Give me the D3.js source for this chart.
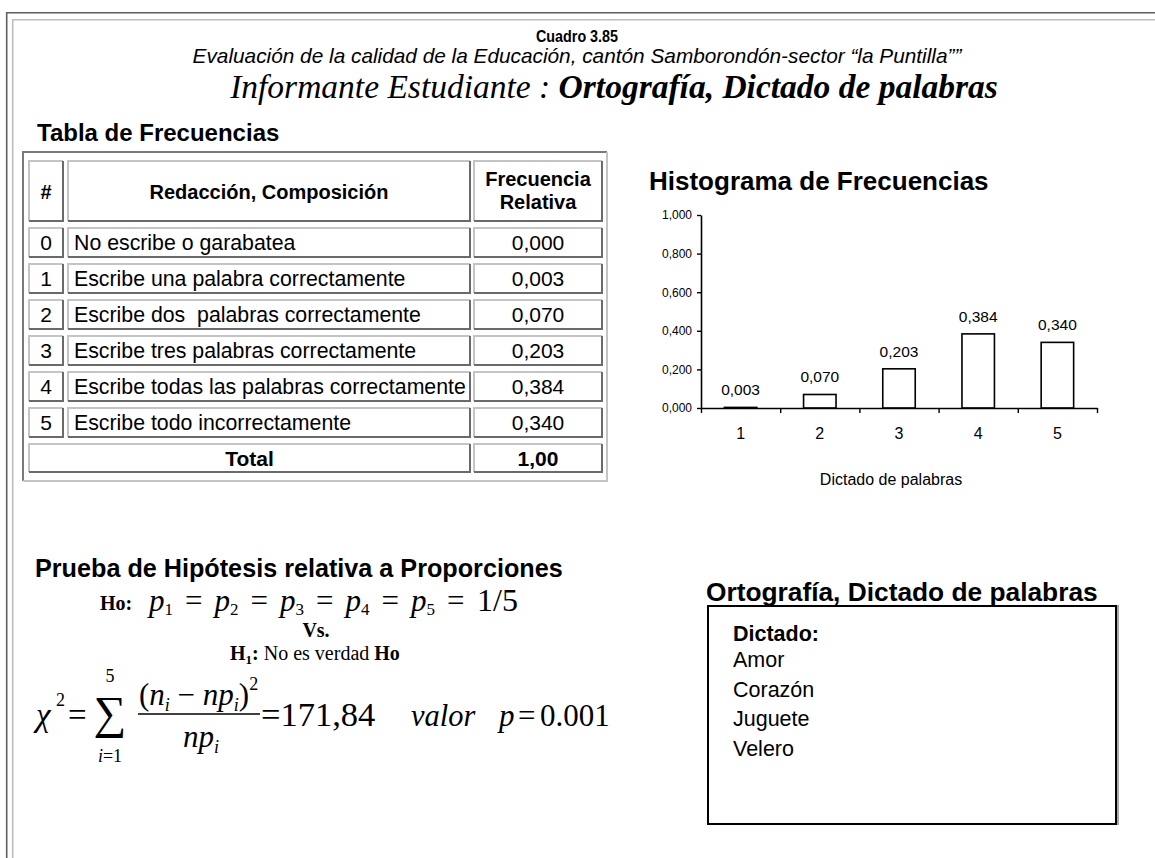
<!DOCTYPE html>
<html><head><meta charset="utf-8">
<script src="https://cdn.jsdelivr.net/npm/d3@7"></script>
<style>body{margin:0;background:#fff}svg{display:block}text{white-space:pre}</style>
</head><body>
<svg id="c" width="1155" height="858"></svg>
<script>
// ---------- data ----------
const categories = ["1","2","3","4","5"];
const values = [0.003, 0.070, 0.203, 0.384, 0.340];
const yTicks = [0, 0.2, 0.4, 0.6, 0.8, 1.0];
const tableCodes = ["0","1","2","3","4","5"];
const tableLabels = ["No escribe o garabatea","Escribe una palabra correctamente","Escribe dos  palabras correctamente","Escribe tres palabras correctamente","Escribe todas las palabras correctamente","Escribe todo incorrectamente"];
const tableFreq = ["0,000","0,003","0,070","0,203","0,384","0,340"];
const totalValue = "1,00";
const dictadoWords = ["Amor","Corazón","Juguete","Velero"];
const pIndices = ["1","2","3","4","5"];

const SANS = "'Liberation Sans', Arial, sans-serif";
const SERIF = "'Liberation Serif', 'Times New Roman', serif";
const svg = d3.select("#c");

function T(parent, x, y, str, o) {
  o = o || {};
  return parent.append("text").attr("x", x).attr("y", y)
    .attr("font-family", o.f || SANS).attr("font-size", o.s || 16)
    .attr("font-weight", o.w || "normal").attr("font-style", o.i ? "italic" : "normal")
    .attr("text-anchor", o.a || "start").attr("fill", "#000").text(str);
}

// ---------- page frame ----------
svg.append("path").attr("d", "M6.7,858 V12.7 H1155").attr("fill", "none").attr("stroke", "#5f5f5f").attr("stroke-width", 1.6);
svg.append("path").attr("d", "M12.7,858 V19.7 H1155").attr("fill", "none").attr("stroke", "#bdbdbd").attr("stroke-width", 1.6);

// ---------- headings ----------
T(svg, 577, 42, "Cuadro 3.85", {s: 16, w: "bold", a: "middle"})
  .attr("textLength", 82).attr("lengthAdjust", "spacingAndGlyphs");
T(svg, 577, 63, "Evaluación de la calidad de la Educación, cantón Samborondón-sector “la Puntilla””", {s: 20.8, i: true, a: "middle"});
const inf = T(svg, 614, 98, "", {f: SERIF, s: 33.5, i: true, a: "middle"});
inf.append("tspan").text("Informante Estudiante : ");
inf.append("tspan").attr("font-weight", "bold").text("Ortografía, Dictado de palabras");

T(svg, 37, 141, "Tabla de Frecuencias", {s: 24, w: "bold"});

// ---------- table ----------
const tg = svg.append("g");
tg.append("path").attr("d", "M23,481 V152 H607").attr("fill", "none").attr("stroke", "#7a7a7a").attr("stroke-width", 2);
tg.append("path").attr("d", "M607,152 V481 H23").attr("fill", "none").attr("stroke", "#c4c4c4").attr("stroke-width", 2);
function cell(x0, x1, y0, y1) {
  tg.append("path").attr("d", `M${x0},${y1} V${y0} H${x1}`).attr("fill", "none").attr("stroke", "#c4c4c4").attr("stroke-width", 2);
  tg.append("path").attr("d", `M${x1},${y0} V${y1} H${x0}`).attr("fill", "none").attr("stroke", "#6a6a6a").attr("stroke-width", 2);
}
const cols = [[29, 63], [68, 470], [474, 602]];
cell(cols[0][0], cols[0][1], 161, 221);
cell(cols[1][0], cols[1][1], 161, 221);
cell(cols[2][0], cols[2][1], 161, 221);
T(tg, (cols[0][0] + cols[0][1]) / 2, 199, "#", {s: 20, w: "bold", a: "middle"});
T(tg, (cols[1][0] + cols[1][1]) / 2, 199, "Redacción, Composición", {s: 20, w: "bold", a: "middle"});
T(tg, (cols[2][0] + cols[2][1]) / 2, 186, "Frecuencia", {s: 20, w: "bold", a: "middle"});
T(tg, (cols[2][0] + cols[2][1]) / 2, 209, "Relativa", {s: 20, w: "bold", a: "middle"});
tableCodes.forEach((code, i) => {
  const y0 = 228 + 36 * i, y1 = y0 + 29;
  cell(cols[0][0], cols[0][1], y0, y1);
  cell(cols[1][0], cols[1][1], y0, y1);
  cell(cols[2][0], cols[2][1], y0, y1);
  T(tg, (cols[0][0] + cols[0][1]) / 2, y0 + 22, code, {s: 21, a: "middle"});
  T(tg, cols[1][0] + 6, y0 + 22, tableLabels[i], {s: 21.3});
  T(tg, (cols[2][0] + cols[2][1]) / 2, y0 + 22, tableFreq[i], {s: 21, a: "middle"});
});
cell(cols[0][0], cols[1][1], 444, 472);
cell(cols[2][0], cols[2][1], 444, 472);
T(tg, (cols[0][0] + cols[1][1]) / 2, 466, "Total", {s: 21, w: "bold", a: "middle"});
T(tg, (cols[2][0] + cols[2][1]) / 2, 466, totalValue, {s: 21, w: "bold", a: "middle"});

// ---------- histogram ----------
T(svg, 649, 190, "Histograma de Frecuencias", {s: 26, w: "bold"});
const x = d3.scaleBand().domain(categories).range([701, 1097]).paddingInner(0.59).paddingOuter(0.295);
const y = d3.scaleLinear().domain([0, 1]).range([408, 215]);
const fmt = d => d3.format(".3f")(d).replace(".", ",");

const cg = svg.append("g");
cg.selectAll("rect.bar").data(values).join("rect").attr("class", "bar")
  .attr("x", (d, i) => x(categories[i])).attr("y", d => y(d))
  .attr("width", x.bandwidth()).attr("height", d => y(0) - y(d))
  .attr("fill", "#fff").attr("stroke", "#000").attr("stroke-width", 1.6);

const ya = cg.append("g").attr("transform", `translate(${x.range()[0]},0)`)
  .call(d3.axisLeft(y).tickValues(yTicks).tickFormat(fmt).tickSize(4).tickSizeOuter(0).tickPadding(5));
ya.selectAll("text").attr("font-family", SANS).attr("font-size", 12).attr("fill", "#000");

const xb = d3.scaleLinear().domain([0, categories.length]).range(x.range());
const xa = cg.append("g").attr("transform", `translate(0,${y(0)})`)
  .call(d3.axisBottom(xb).tickValues(d3.range(categories.length + 1)).tickFormat("").tickSize(5).tickSizeOuter(0));
const xl = cg.append("g").attr("transform", `translate(0,${y(0)})`)
  .call(d3.axisBottom(x).tickSize(0).tickPadding(20));
xl.select(".domain").remove();
xl.selectAll("text").attr("font-family", SANS).attr("font-size", 16).attr("fill", "#000");
[ya, xa].forEach(a => { a.select(".domain").attr("stroke", "#000").attr("stroke-width", 1.6); a.selectAll(".tick line").attr("stroke", "#000").attr("stroke-width", 1.4); });

cg.selectAll("text.val").data(values).join("text").attr("class", "val")
  .attr("x", (d, i) => x(categories[i]) + x.bandwidth() / 2).attr("y", d => y(d) - 12)
  .attr("text-anchor", "middle").attr("font-family", SANS).attr("font-size", 15.5).text(d => fmt(d));

T(svg, 891, 485, "Dictado de palabras", {s: 16, a: "middle"});

// ---------- hypothesis test ----------
T(svg, 35, 577, "Prueba de Hipótesis relativa a Proporciones", {s: 25.2, w: "bold"});
T(svg, 100, 610, "Ho:", {f: SERIF, s: 20, w: "bold"});
const fg = svg.append("g").attr("font-family", SERIF);
pIndices.forEach((k, i) => {
  const px = 149 + i * 65.5;
  const t = T(fg, px, 611, "p", {f: SERIF, s: 31, i: true});
  t.append("tspan").attr("font-style", "normal").attr("font-size", 17).attr("dy", 4).text(k);
  T(fg, px + 36, 611, "=", {f: SERIF, s: 31});
});
T(fg, 477, 611, "1/5", {f: SERIF, s: 32});
T(svg, 316, 637, "Vs.", {f: SERIF, s: 20, w: "bold", a: "middle"});
const h1 = T(svg, 230, 660, "", {f: SERIF, s: 20});
h1.append("tspan").attr("font-weight", "bold").text("H");
h1.append("tspan").attr("font-weight", "bold").attr("font-size", 13).attr("dy", 4).text("1");
h1.append("tspan").attr("font-weight", "bold").attr("dy", -4).text(":");
h1.append("tspan").text(" No es verdad ");
h1.append("tspan").attr("font-weight", "bold").text("Ho");

// chi-square line
const B = 726;
T(fg, 36, B, "χ", {f: SERIF, s: 33, i: true});
T(fg, 56, B - 20, "2", {f: SERIF, s: 18});
T(fg, 68, B, "=", {f: SERIF, s: 33});
T(fg, 110, B + 2, "∑", {f: SERIF, s: 46, a: "middle"});
T(fg, 110, 682, "5", {f: SERIF, s: 18, a: "middle"});
const il = T(fg, 110, 762, "", {f: SERIF, s: 18, a: "middle"});
il.append("tspan").attr("font-style", "italic").text("i");
il.append("tspan").text("=1");
const num = T(fg, 139, 705, "", {f: SERIF, s: 31});
num.append("tspan").text("(");
num.append("tspan").attr("font-style", "italic").text("n");
num.append("tspan").attr("font-style", "italic").attr("font-size", 18).attr("dy", 6).text("i");
num.append("tspan").attr("dy", -6).text(" − ");
num.append("tspan").attr("font-style", "italic").text("np");
num.append("tspan").attr("font-style", "italic").attr("font-size", 18).attr("dy", 6).text("i");
num.append("tspan").attr("dy", -6).text(")");
num.append("tspan").attr("font-size", 18).attr("dy", -15).text("2");
fg.append("line").attr("x1", 138).attr("x2", 260).attr("y1", 714).attr("y2", 714).attr("stroke", "#000").attr("stroke-width", 1.5);
const den = T(fg, 201, 747, "", {f: SERIF, s: 31, a: "middle"});
den.append("tspan").attr("font-style", "italic").text("np");
den.append("tspan").attr("font-style", "italic").attr("font-size", 18).attr("dy", 6).text("i");
T(fg, 261, B, "=171,84", {f: SERIF, s: 34.5});
T(fg, 411, B, "valor", {f: SERIF, s: 30.5, i: true});
T(fg, 499, B, "p", {f: SERIF, s: 31, i: true});
T(fg, 518, B, "=", {f: SERIF, s: 31});
T(fg, 540, B, "0.001", {f: SERIF, s: 31});

// ---------- dictation box ----------
T(svg, 706, 601, "Ortografía, Dictado de palabras", {s: 26.3, w: "bold"});
svg.append("rect").attr("x", 708).attr("y", 606).attr("width", 408).attr("height", 218)
  .attr("fill", "none").attr("stroke", "#000").attr("stroke-width", 2);
svg.append("line").attr("x1", 1118).attr("x2", 1118).attr("y1", 605).attr("y2", 825).attr("stroke", "#8a8a8a").attr("stroke-width", 1.5);
T(svg, 733, 641, "Dictado:", {s: 21.5, w: "bold"});
svg.selectAll("text.word").data(dictadoWords).join("text").attr("class", "word")
  .attr("x", 733).attr("y", (d, i) => 667 + i * 29.5)
  .attr("font-family", SANS).attr("font-size", 21.5).text(d => d);
</script>
</body></html>
